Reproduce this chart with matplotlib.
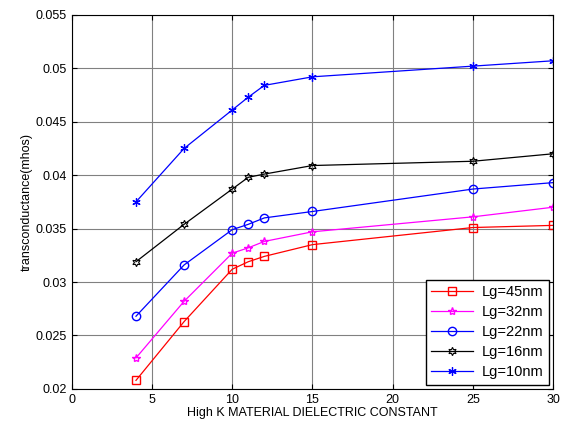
import numpy as np
import matplotlib.pyplot as plt

plt.rcParams['font.family'] = ['Liberation Sans', 'DejaVu Sans']

k_values = [4, 7, 10, 11, 12, 15, 25, 30]
gm_45 = [0.0208, 0.0263, 0.0312, 0.0319, 0.0324, 0.0335, 0.0351, 0.0353]
gm_32 = [0.0229, 0.0282, 0.0327, 0.0332, 0.0338, 0.0347, 0.0361, 0.0370]
gm_22 = [0.0268, 0.0316, 0.0349, 0.0354, 0.0360, 0.0366, 0.0387, 0.0393]
gm_16 = [0.0319, 0.0354, 0.0387, 0.0398, 0.0401, 0.0409, 0.0413, 0.0420]
gm_10 = [0.0375, 0.0425, 0.0461, 0.0473, 0.0484, 0.0492, 0.0502, 0.0507]

fig = plt.figure(figsize=(5.61, 4.36), dpi=100)
ax = fig.add_axes([0.128, 0.108, 0.858, 0.858])

ax.plot(k_values, gm_45, color='red', marker='s', mfc='none', ms=6, lw=0.9, label='Lg=45nm')
ax.plot(k_values, gm_32, color='magenta', marker='*', mfc='none', ms=6, lw=0.9, label='Lg=32nm')
ax.plot(k_values, gm_22, color='blue', marker='o', mfc='none', ms=6, lw=0.9, label='Lg=22nm')
ax.plot(k_values, gm_16, color='black', marker=(6, 1, 0), mfc='none', ms=6, mew=0.8, lw=0.9, label='Lg=16nm')
ax.plot(k_values, gm_10, color='blue', marker=(6, 2, 0), ms=6, mew=0.9, lw=0.9, label='Lg=10nm')

ax.set_xlim(0, 30)
ax.set_ylim(0.02, 0.055)
ax.set_xticks(np.arange(0, 31, 5))
ax.set_yticks(np.arange(0.02, 0.0551, 0.005))
ax.set_yticklabels(['0.02', '0.025', '0.03', '0.035', '0.04', '0.045', '0.05', '0.055'])
ax.grid(True, color='#808080', lw=0.8)
ax.tick_params(direction='in', labelsize=9, top=True, right=True)
ax.set_xlabel('High K MATERIAL DIELECTRIC CONSTANT', fontsize=9, labelpad=1)
ax.set_ylabel('transconductance(mhos)', fontsize=9, labelpad=2)

leg = ax.legend(loc='lower right', fontsize=10.5, fancybox=False, edgecolor='black',
                framealpha=1, borderaxespad=0.3, handlelength=2.9, labelspacing=0.42,
                borderpad=0.35, handletextpad=0.6)
leg.get_frame().set_linewidth(1.0)

fig.savefig('out.png', dpi=100)
